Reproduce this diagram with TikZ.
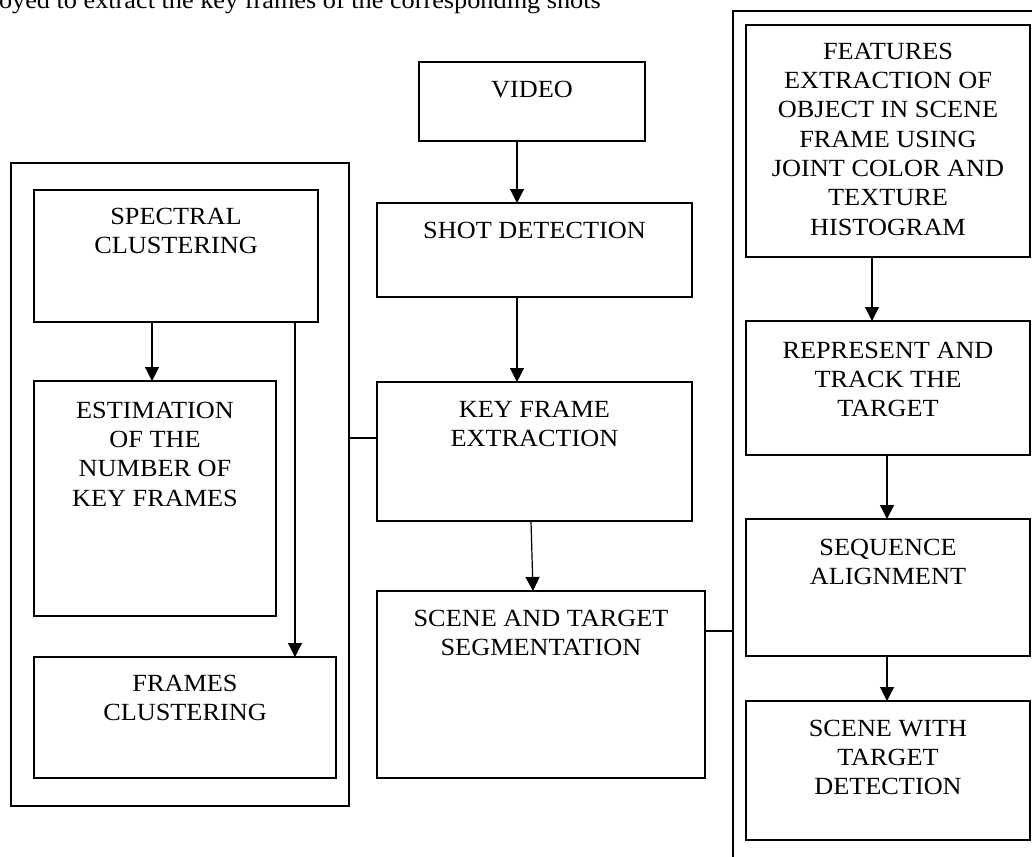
\documentclass[tikz,border=0pt]{standalone}
\usepackage{fontspec}
\setmainfont{Liberation Serif}
\usepackage{graphicx}
\usetikzlibrary{arrows.meta,fit}
\newcommand\boxtext[1]{\scalebox{1.065}[1]{\begin{tabular}[t]{@{}c@{}}#1\end{tabular}}}
\tikzset{
  box/.style={draw=black, line width=0.9pt, inner sep=0pt, outer sep=0pt},
  lbl/.style={inner sep=0pt, outer sep=0pt, font=\fontsize{18.5}{22}\selectfont, anchor=base},
  arr/.style={line width=0.9pt, -{Triangle[length=10.5pt,width=10.5pt]}},
  ln/.style={line width=0.9pt}
}
\begin{document}
\begin{tikzpicture}[x=0.75pt,y=-0.75pt]
\useasboundingbox (0,0) rectangle (1032,857);
\clip (0,0) rectangle (1032,857);

% top text
\node[lbl, anchor=base west] (toptext) at (-1,8.5) {\scalebox{1.065}[1]{oyed to extract the key frames of the corresponding shots}};

% containers
\node[box, fit={(11,163) (349,806)}] (leftc) {};
\node[box, fit={(733,11) (1060,890)}] (rightc) {};

% middle column
\node[box, fit={(419,62) (645,141)}] (video) {};
\node[box, fit={(377,203) (692,297)}] (shot) {};
\node[box, fit={(377,382) (692,521)}] (kf) {};
\node[box, fit={(377,591) (705,778)}] (scene) {};

% left column
\node[box, fit={(34,190) (318,322)}] (spectral) {};
\node[box, fit={(34,381) (276,616)}] (estim) {};
\node[box, fit={(34,657) (336,778)}] (frames) {};

% right column
\node[box, fit={(746,25) (1030,257)}] (feat) {};
\node[box, fit={(746,321) (1030,455)}] (repr) {};
\node[box, fit={(746,519) (1030,656)}] (seq) {};
\node[box, fit={(746,701) (1030,840)}] (swt) {};

% labels
\node[lbl] (videot) at (532,97) {\boxtext{VIDEO}};
\node[lbl] (shott) at (534.5,238) {\boxtext{SHOT DETECTION}};
\node[lbl] (kft) at (534.5,417) {\boxtext{KEY FRAME\\EXTRACTION}};
\node[lbl] (scenet) at (541,626) {\boxtext{SCENE AND TARGET\\SEGMENTATION}};
\node[lbl] (spectralt) at (176,224) {\boxtext{SPECTRAL\\CLUSTERING}};
\node[lbl] (estimt) at (155,418) {\boxtext{ESTIMATION\\OF THE\\NUMBER OF\\KEY FRAMES}};
\node[lbl] (framest) at (185,691) {\boxtext{FRAMES\\CLUSTERING}};
\node[lbl] (featt) at (888,59) {\boxtext{FEATURES\\EXTRACTION OF\\OBJECT IN SCENE\\FRAME USING\\JOINT COLOR AND\\TEXTURE\\HISTOGRAM}};
\node[lbl] (reprt) at (888,358) {\boxtext{REPRESENT AND\\TRACK THE\\TARGET}};
\node[lbl] (seqt) at (888,555) {\boxtext{SEQUENCE\\ALIGNMENT}};
\node[lbl] (swtt) at (888,736) {\boxtext{SCENE WITH\\TARGET\\DETECTION}};

% helper coordinates
\coordinate (x517) at (517,0);
\coordinate (x531) at (531,0);
\coordinate (x533) at (533,0);
\coordinate (x152) at (152,0);
\coordinate (x295) at (295,0);
\coordinate (x872) at (872,0);
\coordinate (x887) at (887,0);
\coordinate (y438) at (0,438);
\coordinate (y631) at (0,631);

% connectors
\draw[arr] (video.south -| x517) -- (shot.north -| x517);
\draw[arr] (shot.south -| x517) -- (kf.north -| x517);
\draw[arr] (kf.south -| x531) -- (scene.north -| x533);
\draw[ln] (leftc.east |- y438) -- (kf.west |- y438);
\draw[ln] (scene.east |- y631) -- (rightc.west |- y631);
\draw[arr] (spectral.south -| x152) -- (estim.north -| x152);
\draw[arr] (spectral.south -| x295) -- (frames.north -| x295);
\draw[arr] (feat.south -| x872) -- (repr.north -| x872);
\draw[arr] (repr.south -| x887) -- (seq.north -| x887);
\draw[arr] (seq.south -| x887) -- (swt.north -| x887);
\end{tikzpicture}
\end{document}
